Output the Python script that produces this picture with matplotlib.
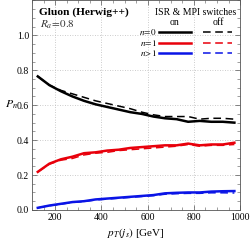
import matplotlib
matplotlib.use('Agg')
import matplotlib.pyplot as plt
import matplotlib.ticker as mticker
from matplotlib import rcParams

rcParams['font.family'] = 'serif'
rcParams['font.serif'] = ['Liberation Serif', 'DejaVu Serif']
rcParams['mathtext.fontset'] = 'stix'
rcParams['font.size'] = 7

# data
pt = [125, 175, 225, 275, 325, 375, 425, 475, 525, 575, 625, 675, 725, 775, 825, 875, 925, 975]

n0_on = [0.765, 0.715, 0.68, 0.65, 0.625, 0.605, 0.59, 0.575, 0.56, 0.55, 0.535, 0.525, 0.52, 0.505, 0.51, 0.505, 0.505, 0.50]
n0_off = [0.765, 0.715, 0.685, 0.665, 0.645, 0.625, 0.61, 0.595, 0.58, 0.56, 0.545, 0.535, 0.535, 0.535, 0.52, 0.525, 0.525, 0.52]

n1_on = [0.218, 0.265, 0.29, 0.305, 0.325, 0.33, 0.34, 0.345, 0.355, 0.36, 0.365, 0.37, 0.37, 0.38, 0.37, 0.375, 0.375, 0.385]
n1_off = [0.218, 0.262, 0.285, 0.295, 0.315, 0.325, 0.33, 0.34, 0.345, 0.35, 0.355, 0.36, 0.365, 0.375, 0.365, 0.37, 0.37, 0.375]

n2_on = [0.012, 0.025, 0.035, 0.045, 0.05, 0.06, 0.065, 0.07, 0.075, 0.08, 0.085, 0.095, 0.098, 0.10, 0.10, 0.105, 0.107, 0.108]
n2_off = [0.012, 0.024, 0.033, 0.043, 0.048, 0.057, 0.062, 0.067, 0.072, 0.077, 0.082, 0.09, 0.093, 0.095, 0.095, 0.098, 0.098, 0.097]

labels = [r'$n\!=\!0$', r'$n\!=\!1$', r'$n\!>\!1$']
colors = ['black', '#e8000b', '#0a14e6']

fig = plt.figure(figsize=(2.52, 2.41), dpi=100)
ax = fig.add_axes([0.127, 0.129, 0.826, 0.869])

series = [(n0_on, n0_off), (n1_on, n1_off), (n2_on, n2_off)]
for (on, off), c in zip(series, colors):
	ax.plot(pt, on, color=c, lw=1.8, solid_joinstyle='round')
	ax.plot(pt, off, color=c, lw=1.1, ls=(0, (5, 3)))

ax.set_xlim(100, 1000)
ax.set_ylim(0, 1.2)
ax.xaxis.set_major_locator(mticker.FixedLocator([200, 400, 600, 800, 1000]))
ax.xaxis.set_minor_locator(mticker.MultipleLocator(50))
ax.yaxis.set_major_locator(mticker.FixedLocator([0.0, 0.2, 0.4, 0.6, 0.8, 1.0]))
ax.yaxis.set_minor_locator(mticker.MultipleLocator(0.05))
ax.yaxis.set_major_formatter(mticker.FormatStrFormatter('%.1f'))
ax.tick_params(which='both', direction='in', top=True, right=True, labelsize=7, pad=2, color='#555555')
ax.tick_params(which='major', length=3.5, width=0.5)
ax.tick_params(which='minor', length=2, width=0.4)
for s in ax.spines.values():
	s.set_linewidth(0.6)
	s.set_color('#555555')

for v in [200, 400, 600, 800]:
	ax.axvline(v, color='#bbbbbb', lw=0.6, ls=(0, (1, 2)), zorder=0)
for v in [0.2, 0.4, 0.6, 0.8, 1.0]:
	ax.axhline(v, color='#bbbbbb', lw=0.6, ls=(0, (1, 2)), zorder=0)

ax.set_xlabel(r'$p_T(j_s)$ [GeV]', fontsize=8, labelpad=3)
ax.set_ylabel(r'$P_n$', fontsize=8.5, rotation=0, va='center', ha='center')
ax.yaxis.set_label_coords(-0.1, 0.50)

ax.text(0.035, 0.945, 'Gluon (Herwig++)', transform=ax.transAxes, fontsize=8.2,
	fontweight='bold', va='center', ha='left')
ax.text(0.04, 0.885, r'$R_a\!=\!0.8$', transform=ax.transAxes, fontsize=8,
	va='center', ha='left', color='#333333')

# hand-made legend in axes coordinates
ax.text(0.785, 0.945, 'ISR & MPI switches', transform=ax.transAxes, fontsize=7,
	va='center', ha='center')
ax.text(0.683, 0.893, 'on', transform=ax.transAxes, fontsize=7, va='center', ha='center')
ax.text(0.894, 0.893, 'off', transform=ax.transAxes, fontsize=7, va='center', ha='center')
rows = [0.85, 0.798, 0.748]
for lab, c, yy in zip(labels, colors, rows):
	ax.text(0.60, yy, lab, transform=ax.transAxes, fontsize=6.6, va='center', ha='right')
	ax.plot([0.612, 0.765], [yy, yy], transform=ax.transAxes, color=c, lw=1.8)
	ax.plot([0.822, 0.962], [yy, yy], transform=ax.transAxes, color=c, lw=1.1, ls=(0, (5, 3)))

fig.savefig('out.png', dpi=100)
